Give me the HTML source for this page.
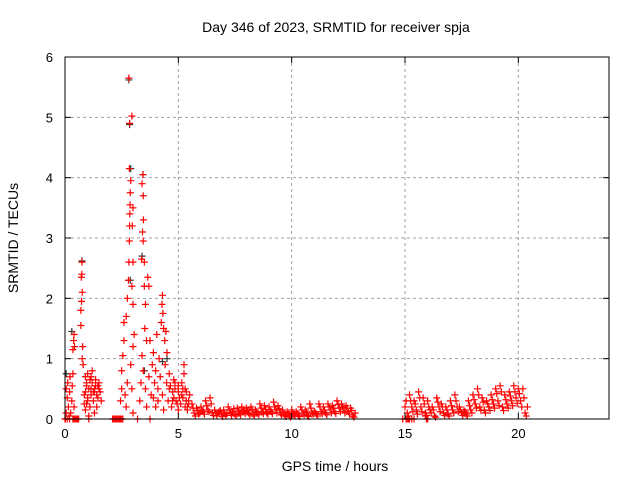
<!DOCTYPE html>
<html><head><meta charset="utf-8"><style>
body{margin:0;background:#fff;}
svg{display:block;font-family:"Liberation Sans",sans-serif;}
</style></head><body>
<svg id="chart" width="640" height="480" viewBox="0 0 640 480" xmlns="http://www.w3.org/2000/svg">
<rect width="640" height="480" fill="#fff"/>
<text x="336" y="32" font-size="14" text-anchor="middle">Day 346 of 2023, SRMTID for receiver spja</text>
<text x="335" y="471" font-size="14" text-anchor="middle">GPS time / hours</text>
<text transform="translate(18,238) rotate(-90)" font-size="14" text-anchor="middle">SRMTID / TECUs</text>
<g id="grid"></g>
<g id="marks"></g>
<rect x="65" y="57" width="544" height="362" fill="none" stroke="#000" stroke-width="1"/>
<g id="axes"></g>
</svg>
<script>
const xTicks=[0,5,10,15,20];
const yTicks=[0,1,2,3,4,5,6];
const redTimes=[0.05,0.1,0.12,0.15,0.2,0.22,0.25,0.3,0.32,0.35,0.4,0.05,0.18,
0.35,0.38,0.4,0.42,
0.7,0.72,0.74,0.75,0.76,0.73,0.7,0.78,0.8,0.76,
0.85,0.9,0.95,1.0,1.0,1.05,1.1,1.1,1.15,1.2,1.2,1.25,1.3,1.3,1.35,1.4,1.45,1.5,1.55,0.9,1.05,0.85,1.4,
0.1,0.2,0.5,0.6,2.1,2.2,2.3,2.4,2.5,1.05,3.2,
2.45,2.5,2.5,2.55,2.6,2.6,2.65,2.7,2.75,2.8,2.82,2.84,2.85,2.86,2.87,2.88,2.9,2.84,2.85,2.82,2.95,2.97,3.0,3.0,2.95,3.0,3.05,3.0,2.9,2.75,2.7,2.95,3.0,
3.3,3.35,3.38,3.4,3.44,3.45,3.46,3.45,3.42,3.5,3.5,3.55,3.52,3.4,3.45,3.55,3.6,3.65,3.7,3.6,3.7,
3.8,3.85,3.9,3.95,4.0,4.0,4.05,4.1,4.1,4.15,4.2,3.75,3.9,
4.25,4.28,4.3,4.32,4.35,4.4,4.42,4.45,4.5,4.48,4.3,4.55,4.35,4.6,4.6,
4.7,4.75,4.8,4.85,4.9,5.0,5.0,5.1,5.15,5.2,5.25,5.25,5.3,5.3,5.35,5.4,5.45,5.5,
5.6,5.8,6.0,6.2,6.4,6.6,6.8,7.0,7.2,7.4,7.6,7.8,8.0,8.2,8.4,8.6,8.8,9.0,9.2,9.4,9.6,9.8,10.0,10.2,10.4,10.6,10.8,11.0,11.2,11.4,11.6,11.8,12.0,12.2,12.4,12.6,12.8,
5.7,5.9,6.1,6.3,6.5,6.7,6.9,7.1,7.3,7.5,7.7,7.9,8.1,8.3,8.5,8.7,8.9,9.1,9.3,9.5,9.7,9.9,10.1,10.3,10.5,10.7,10.9,11.1,11.3,11.5,11.7,11.9,12.1,12.3,12.5,12.7,
15.0,15.2,15.4,15.6,15.8,16.0,16.2,16.4,16.6,16.8,17.0,17.2,17.4,17.6,17.8,18.0,18.2,18.4,18.6,18.8,19.0,19.2,19.4,19.6,19.8,20.0,20.2,20.4,
15.1,15.3,15.5,15.7,15.9,16.1,16.3,16.5,16.7,16.9,17.1,17.3,17.5,17.7,17.9,18.1,18.3,18.5,18.7,18.9,19.1,19.3,19.5,19.7,19.9,20.1,20.3,
14.9,15.05,15.15,15.2,15.9,16.0,
5.65,5.85,6.05,6.25,6.45,6.65,6.85,7.05,7.25,7.45,7.65,7.85,8.05,8.25,8.45,8.65,8.85,9.05,9.25,9.45,9.65,9.85,10.05,10.25,10.45,10.65,10.85,11.05,11.25,11.45,11.65,11.85,12.05,12.25,12.45,12.65,
5.75,5.95,6.15,6.35,6.55,6.75,6.95,7.15,7.35,7.55,7.75,7.95,8.15,8.35,8.55,8.75,8.95,9.15,9.35,9.55,9.75,9.95,10.15,10.35,10.55,10.75,10.95,11.15,11.35,11.55,11.75,11.95,12.15,12.35,12.55,12.75,
15.05,15.25,15.45,15.65,15.85,16.05,16.25,16.45,16.65,16.85,17.05,17.25,17.45,17.65,17.85,18.05,18.25,18.45,18.65,18.85,19.05,19.25,19.45,19.65,19.85,20.05,20.25,
15.15,15.35,15.55,15.75,15.95,16.15,16.35,16.55,16.75,16.95,17.15,17.35,17.55,17.75,17.95,18.15,18.35,18.55,18.75,18.95,19.15,19.35,19.55,19.75,19.95,20.15,20.35,
0.9,0.95,1.0,1.15,1.25,1.35,1.45,1.5,1.6,0.95,1.15,1.3,
4.65,4.75,4.85,4.95,5.05,5.15,5.35,5.45,4.8,5.0,5.2,5.4,
0.0,0.02,0.35,0.4,0.45,0.55,2.15,2.25,2.35,2.45,2.55,3.75,15.1,15.3,15.4,15.95];
const redValues=[0.5,0.35,0.6,0.2,0.45,0.7,0.1,0.3,0.55,0.75,0.2,0.1,0.05,
1.15,1.3,1.4,1.2,
1.8,2.35,2.4,2.6,2.1,1.95,1.55,1.2,0.9,1.0,
0.4,0.7,0.55,0.3,0.75,0.5,0.65,0.2,0.4,0.6,0.8,0.3,0.5,0.1,0.65,0.4,0.55,0.6,0.45,0.15,0.05,0.25,0.2,
0,0,0,0,0,0,0,0,0,0,0,
0.3,0.5,0.8,1.05,1.3,1.6,0.4,1.7,2.0,2.3,2.6,2.95,3.2,3.4,3.55,3.75,3.95,4.15,4.9,5.65,5.02,3.2,3.5,2.6,2.2,1.9,1.4,1.2,0.9,0.6,0.2,0.5,0.1,
0.3,0.6,2.65,3.9,4.05,3.7,3.3,2.95,3.1,2.6,2.2,1.9,1.5,1.05,0.8,0.5,1.3,2.35,2.2,0.2,0.7,
0.4,0.9,1.1,0.6,0.2,0.8,1.4,0.5,0.3,1.0,0.7,1.3,0.35,
1.6,1.9,2.05,1.75,1.5,1.3,0.9,1.45,1.1,0.6,0.4,0.3,0.15,0.75,0.5,
0.2,0.45,0.35,0.6,0.3,0.15,0.45,0.25,0.6,0.35,0.9,0.75,0.5,0.2,0.3,0.15,0.25,0.4,
0.25,0.18,0.2,0.3,0.35,0.15,0.12,0.15,0.2,0.12,0.18,0.2,0.18,0.2,0.15,0.25,0.22,0.2,0.28,0.22,0.15,0.12,0.15,0.12,0.2,0.15,0.25,0.12,0.25,0.2,0.25,0.22,0.3,0.25,0.22,0.18,0.1,
0.1,0.08,0.12,0.15,0.1,0.05,0.08,0.06,0.1,0.08,0.1,0.12,0.1,0.08,0.1,0.12,0.1,0.12,0.15,0.1,0.06,0.05,0.08,0.05,0.1,0.06,0.1,0.08,0.12,0.1,0.15,0.12,0.18,0.15,0.12,0.05,
0.2,0.4,0.3,0.45,0.35,0.3,0.2,0.35,0.25,0.2,0.3,0.4,0.2,0.15,0.3,0.4,0.5,0.35,0.3,0.4,0.5,0.55,0.4,0.45,0.55,0.5,0.5,0.2,
0.1,0.2,0.15,0.2,0.1,0.15,0.05,0.2,0.1,0.08,0.15,0.2,0.1,0.08,0.15,0.25,0.2,0.15,0.2,0.25,0.3,0.2,0.25,0.3,0.35,0.3,0.1,
0,0,0,0,0.05,0,
0.18,0.14,0.15,0.22,0.25,0.1,0.14,0.1,0.15,0.17,0.13,0.15,0.14,0.16,0.12,0.18,0.16,0.15,0.2,0.17,0.1,0.08,0.1,0.09,0.15,0.12,0.18,0.1,0.2,0.15,0.2,0.18,0.24,0.2,0.18,0.14,
0.05,0.1,0.08,0.12,0.06,0.1,0.04,0.09,0.06,0.05,0.07,0.09,0.07,0.05,0.07,0.09,0.08,0.09,0.1,0.07,0.04,0.03,0.05,0.04,0.07,0.04,0.08,0.05,0.09,0.07,0.1,0.09,0.12,0.1,0.08,0.03,
0.3,0.3,0.25,0.35,0.25,0.2,0.15,0.28,0.2,0.15,0.22,0.3,0.15,0.12,0.22,0.32,0.4,0.28,0.25,0.32,0.42,0.45,0.32,0.38,0.45,0.42,0.35,
0.05,0.12,0.08,0.12,0.06,0.1,0.03,0.12,0.06,0.05,0.1,0.12,0.06,0.05,0.1,0.18,0.14,0.1,0.14,0.18,0.22,0.14,0.18,0.22,0.26,0.2,0.05,
0.45,0.6,0.35,0.7,0.45,0.55,0.35,0.5,0.3,0.25,0.5,0.45,
0.55,0.3,0.5,0.25,0.35,0.4,0.45,0.3,0.65,0.55,0.5,0.2,
0,0,0,0,0,0,0,0,0,0,0,0,0,0,0,0];
const darkTimes=[0.05,0.75,2.82,2.85,2.9,3.44,3.4,2.88,3.5,4.5,4.3,0.3];
const darkValues=[0.75,2.62,5.62,4.88,4.15,4.05,2.7,2.3,0.8,1.0,0.95,1.45];
const X0=65,X1=609,Y0=419,Y1=57;
const xs=h=>X0+h*(X1-X0)/24;
const ys=v=>Y0-v*(Y0-Y1)/6;
const NS="http://www.w3.org/2000/svg";
const grid=document.getElementById('grid'),axes=document.getElementById('axes'),marks=document.getElementById('marks');
function mk(tag,attrs,parent){const e=document.createElementNS(NS,tag);for(const k in attrs)e.setAttribute(k,attrs[k]);parent.appendChild(e);return e;}
xTicks.forEach(t=>{
  const x=xs(t);
  if(t>0){const g=mk('line',{x1:x,x2:x,y1:Y1,y2:Y0,stroke:'#a0a0a0','stroke-dasharray':'3,3'},grid);
  
  }
  mk('line',{x1:x,x2:x,y1:Y0,y2:Y0-6,stroke:'#000'},axes);
  mk('line',{x1:x,x2:x,y1:Y1,y2:Y1+6,stroke:'#000'},axes);
  const tx=mk('text',{x:x,y:Y0+19,'font-size':13,'text-anchor':'middle'},axes);
  
  
  tx.textContent=t;
});
yTicks.forEach(t=>{
  const y=ys(t);
  if(t>0&&t<6){const g=mk('line',{x1:X0,x2:X1,y1:y,y2:y,stroke:'#a0a0a0','stroke-dasharray':'3,3'},grid);
  
  }
  mk('line',{x1:X0,x2:X0+6,y1:y,y2:y,stroke:'#000'},axes);
  mk('line',{x1:X1,x2:X1-6,y1:y,y2:y,stroke:'#000'},axes);
  const tx=mk('text',{x:X0-12,y:y+5,'font-size':13,'text-anchor':'end'},axes);
  
  
  tx.textContent=t;
});
function plus(h,v,color){
  const x=xs(h),y=ys(v);
  const p=mk('path',{d:`M${x-3.5},${y}H${x+3.5}M${x},${y-3.5}V${y+3.5}`,stroke:color,'stroke-width':1.2,fill:'none'},marks);
  
  
}
darkTimes.forEach((h,i)=>plus(h,darkValues[i],'#333'));
redTimes.forEach((h,i)=>plus(h,redValues[i],'#ff0000'));
</script>
</body></html>
